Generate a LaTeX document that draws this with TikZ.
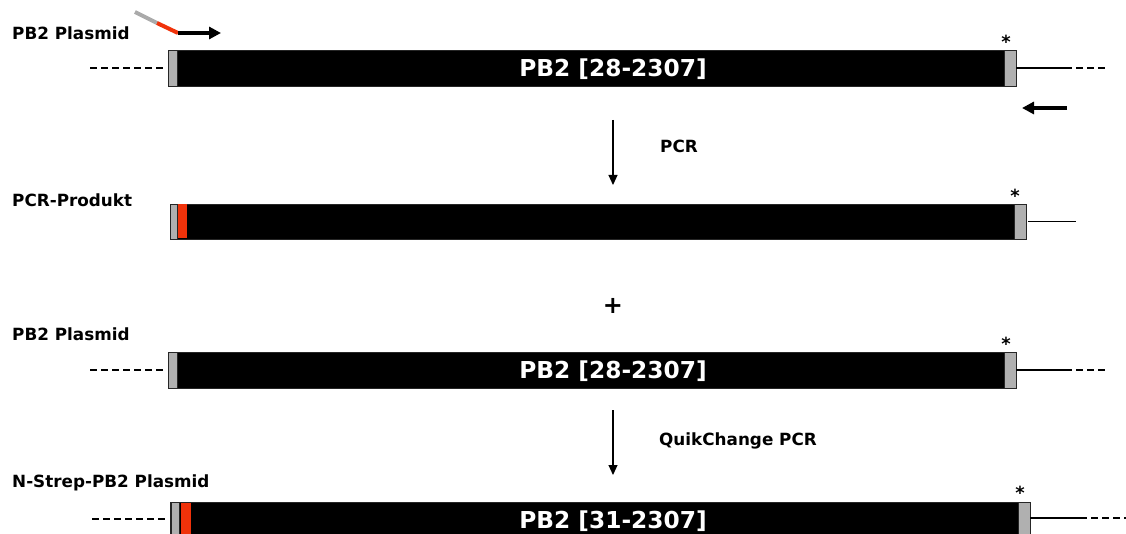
\documentclass[tikz,border=0pt]{standalone}
\usepackage{fontspec}
\setmainfont{DejaVu Sans}
\usetikzlibrary{arrows.meta}
\definecolor{capgray}{RGB}{176,176,176}
\definecolor{tagred}{RGB}{240,50,10}
\definecolor{primergray}{RGB}{170,170,170}
\newcommand{\lblfont}{\fontsize{16.8}{18}\selectfont\bfseries}
\newcommand{\barfont}{\fontsize{23.3}{25}\selectfont\bfseries}
\tikzset{
  bar/.style={draw=black!85, fill=black, line width=0.8pt, inner sep=0pt, outer sep=0pt, anchor=north west},
  capbox/.style={draw=black!85, fill=capgray, line width=0.8pt, inner sep=0pt, outer sep=0pt, anchor=north west},
  tagbox/.style={fill=tagred, inner sep=0pt, outer sep=0pt, anchor=north west},
  lbl/.style={font=\lblfont, anchor=west, inner sep=0pt},
  bartext/.style={font=\barfont, text=white, inner sep=0pt},
  star/.style={font=\fontsize{18}{20}\selectfont\bfseries, inner sep=0pt},
  vecline/.style={line width=1.9pt},
  vecdash/.style={line width=1.8pt, dash pattern=on 7pt off 4pt},
  step arrow/.style={line width=1.1pt, -{Triangle[length=10pt,width=9pt]}},
  primer/.style={line width=4pt},
}
\begin{document}
\begin{tikzpicture}[x=1pt,y=-1pt]
\useasboundingbox (0,0) rectangle (1126,534);

% ---- PB2 plasmid (template) ----
\node[lbl] (l1) at (12,33) {PB2 Plasmid};
\node[bar, minimum width=848pt, minimum height=36pt] (b1) at (168,50) {};
\node[capbox, minimum width=9pt, minimum height=36pt] (c1l) at (168,50) {};
\node[capbox, minimum width=12pt, minimum height=36pt] (c1r) at (1004,50) {};
\node[bartext] (t1) at (613,69) {PB2 [28-2307]};
\node[star] (s1) at (1006,42) {*};
\coordinate (d1a) at (90,68);
\coordinate (d1b) at (165,68);
\coordinate (e1a) at (1065,68);
\coordinate (e1b) at (1108,68);
\draw[vecdash] (d1a) -- (d1b);
\draw[vecline] (c1r.east) -- (e1a);
\draw[vecdash] (e1a) -- (e1b);

% forward primer with tag and reverse primer
\coordinate (p0) at (135,12);
\coordinate (p1) at (157,23);
\coordinate (p2) at (178,33);
\coordinate (p3) at (221,33);
\draw[primer, primergray] (p0) -- (p1);
\draw[primer, tagred] (p1) -- (p2);
\draw[primer, -{Triangle[length=12pt,width=12pt]}] (p2) -- (p3);
\coordinate (r0) at (1067,108);
\coordinate (r1) at (1022,108);
\draw[primer, -{Triangle[length=12pt,width=12pt]}] (r0) -- (r1);

% ---- PCR step ----
\coordinate (a1a) at (613,120);
\coordinate (a1b) at (613,185);
\draw[step arrow] (a1a) -- (a1b);
\node[lbl] (pcr) at (660,146) {PCR};

% ---- PCR product ----
\node[lbl] (l2) at (12,200) {PCR-Produkt};
\node[bar, minimum width=856pt, minimum height=35pt] (b2) at (170,204) {};
\node[capbox, minimum width=7pt, minimum height=35pt] (c2l) at (170,204) {};
\node[tagbox, minimum width=9pt, minimum height=34pt] (g2) at (178,204.5) {};
\node[capbox, minimum width=12pt, minimum height=35pt] (c2r) at (1014,204) {};
\node[star] (s2) at (1015,196) {*};
\coordinate (e2) at (1076,221.5);
\draw[vecline] ([xshift=2pt]c2r.east) -- (e2);

% ---- plus ----
\node[font=\fontsize{24}{26}\selectfont\bfseries, inner sep=0pt] (plus) at (613,306) {+};

% ---- PB2 plasmid (second copy) ----
\node[lbl] (l3) at (12,334) {PB2 Plasmid};
\node[bar, minimum width=848pt, minimum height=36pt] (b3) at (168,352) {};
\node[capbox, minimum width=9pt, minimum height=36pt] (c3l) at (168,352) {};
\node[capbox, minimum width=12pt, minimum height=36pt] (c3r) at (1004,352) {};
\node[bartext] (t3) at (613,371) {PB2 [28-2307]};
\node[star] (s3) at (1006,344) {*};
\coordinate (d3a) at (90,370);
\coordinate (d3b) at (165,370);
\coordinate (e3a) at (1065,370);
\coordinate (e3b) at (1108,370);
\draw[vecdash] (d3a) -- (d3b);
\draw[vecline] (c3r.east) -- (e3a);
\draw[vecdash] (e3a) -- (e3b);

% ---- QuikChange step ----
\coordinate (a2a) at (613,410);
\coordinate (a2b) at (613,475);
\draw[step arrow] (a2a) -- (a2b);
\node[lbl] (qc) at (659,441) {QuikChange PCR};

% ---- N-Strep-PB2 plasmid ----
\node[lbl] (l4) at (12,483) {N-Strep-PB2 Plasmid};
\node[bar, minimum width=860pt, minimum height=40pt] (b4) at (170,502) {};
\node[capbox, minimum width=8pt, minimum height=40pt] (c4l) at (171,502) {};
\node[tagbox, minimum width=10pt, minimum height=39pt] (g4) at (181,502.5) {};
\node[capbox, minimum width=12pt, minimum height=40pt] (c4r) at (1018,502) {};
\node[bartext] (t4) at (613,521) {PB2 [31-2307]};
\node[star] (s4) at (1020,493) {*};
\coordinate (d4a) at (92,519);
\coordinate (d4b) at (166,519);
\coordinate (e4a) at (1080,518);
\coordinate (e4b) at (1128,518);
\draw[vecdash] (d4a) -- (d4b);
\draw[vecline] (c4r.east) ++(0,-4) -- (e4a);
\draw[vecdash] (e4a) -- (e4b);
\end{tikzpicture}
\end{document}
